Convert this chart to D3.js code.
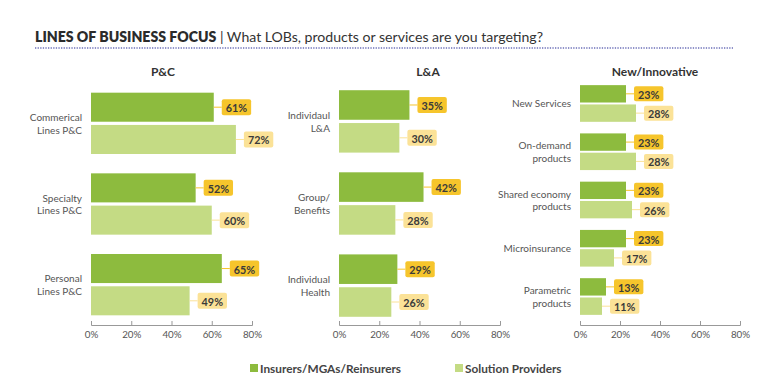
<!DOCTYPE html>
<html>
<head>
<meta charset="utf-8">
<script src="https://cdn.jsdelivr.net/npm/d3@7"></script>
<style>
  html, body { margin: 0; padding: 0; background: #fff; }
  svg { display: block; font-family: Lato, "Open Sans", sans-serif; }
</style>
</head>
<body>
<svg id="chart" width="768" height="391"></svg>
<script>
// ---- Data ----
const seriesNames = ["Insurers/MGAs/Reinsurers", "Solution Providers"];

const pcTitle = "P&C";
const pcCategories = [["Commerical", "Lines P&C"], ["Specialty", "Lines P&C"], ["Personal", "Lines P&C"]];
const pcInsurers = [61, 52, 65];
const pcSolution = [72, 60, 49];

const laTitle = "L&A";
const laCategories = [["Individaul", "L&A"], ["Group/", "Benefits"], ["Individual", "Health"]];
const laInsurers = [35, 42, 29];
const laSolution = [30, 28, 26];

const niTitle = "New/Innovative";
const niCategories = [["New Services"], ["On-demand", "products"], ["Shared economy", "products"], ["Microinsurance"], ["Parametric", "products"]];
const niInsurers = [23, 23, 23, 23, 13];
const niSolution = [28, 28, 26, 17, 11];

const tickValues = [0, 20, 40, 60, 80];

// ---- Styles ----
const barColors = ["#8dbb3e", "#c4db84"];
const boxColors = ["#f6c52c", "#fbe297"];
const textDark = "#333";

const svg = d3.select("#chart");

// Title
const title = svg.append("text").attr("x", 35).attr("y", 42)
  .attr("font-size", 14.1).attr("fill", "#2b2b2b");
title.append("tspan").attr("font-weight", 800).text("LINES OF BUSINESS FOCUS");
title.append("tspan").attr("font-weight", 400).attr("fill", "#333").text(" | What LOBs, products or services are you targeting?");

svg.append("line").attr("x1", 35).attr("x2", 733).attr("y1", 48).attr("y2", 48)
  .attr("stroke", "#6c6fb8").attr("stroke-width", 1.3).attr("stroke-dasharray", "1.3,1.3");

const panels = [
  { title: pcTitle, cats: pcCategories, ins: pcInsurers, sol: pcSolution, x0: 91, x1: 252, y0: 83, y1: 325, po: 0.12, titleX: 163, boxH: 16 },
  { title: laTitle, cats: laCategories, ins: laInsurers, sol: laSolution, x0: 339, x1: 500, y0: 82, y1: 325, po: 0.1, titleX: 428, boxH: 16 },
  { title: niTitle, cats: niCategories, ins: niInsurers, sol: niSolution, x0: 580, x1: 740, y0: 75, y1: 325, po: 0.21, titleX: 655, boxH: 15 }
];

panels.forEach(p => {
  const g = svg.append("g");
  const x = d3.scaleLinear().domain([0, 80]).range([p.x0, p.x1]);
  const y = d3.scaleBand().domain(d3.range(p.cats.length)).range([p.y0, p.y1])
    .paddingInner(0.24).paddingOuter(p.po);
  const ys = d3.scaleBand().domain([0, 1]).range([0, y.bandwidth()]).paddingInner(0.1);

  g.append("text").attr("x", p.titleX).attr("y", 76).attr("text-anchor", "middle")
    .attr("font-size", 12).attr("font-weight", 700).attr("fill", textDark).text(p.title);

  // axis
  const axis = d3.axisBottom(x).tickValues(tickValues).tickSize(-4).tickPadding(6)
    .tickFormat(d => d + "%");
  const ag = g.append("g").attr("transform", `translate(0,${p.y1})`).call(axis);
  ag.select(".domain").attr("stroke", "#999");
  ag.selectAll(".tick line").attr("stroke", "#999");
  ag.selectAll(".tick text").attr("font-size", 9.8).attr("fill", "#555")
    .attr("font-family", "Lato, sans-serif");

  p.cats.forEach((cat, i) => {
    const vals = [p.ins[i], p.sol[i]];
    const by = y(i);
    vals.forEach((v, s) => {
      const top = by + ys(s);
      const h = ys.bandwidth();
      g.append("rect").attr("x", x(0)).attr("y", top).attr("width", x(v) - x(0)).attr("height", h)
        .attr("fill", barColors[s]);
      const cy = top + h / 2;
      const label = v + "%";
      const bx = x(v) + 8;
      g.append("line").attr("x1", x(v)).attr("x2", bx).attr("y1", cy).attr("y2", cy)
        .attr("stroke", boxColors[s]).attr("stroke-width", 1);
      const lg = g.append("g");
      const box = lg.append("rect").attr("x", bx).attr("y", cy - p.boxH / 2)
        .attr("height", p.boxH).attr("rx", 2).attr("fill", boxColors[s]);
      const t = lg.append("text").attr("font-size", 10.8).attr("font-weight", 700)
        .attr("fill", "#3a3a3a").attr("dominant-baseline", "central")
        .attr("text-anchor", "middle").text(label);
      const tw = t.node().getComputedTextLength();
      const bw = tw + 8;
      box.attr("width", bw);
      t.attr("x", bx + bw / 2).attr("y", cy + 0.5);
    });
    // category label
    const cy = by + y.bandwidth() / 2;
    const lh = 12.5;
    const n = cat.length;
    cat.forEach((line, k) => {
      g.append("text").attr("x", x(0) - 9).attr("y", cy + (k - (n - 1) / 2) * lh)
        .attr("dominant-baseline", "central").attr("text-anchor", "end")
        .attr("font-size", 10).attr("fill", "#555").text(line);
    });
  });
});

// Legend
const legendItems = [{ x: 250 }, { x: 455 }];
legendItems.forEach((d, i) => {
  svg.append("rect").attr("x", d.x).attr("y", 364).attr("width", 8).attr("height", 8).attr("fill", barColors[i]);
  svg.append("text").attr("x", d.x + 10).attr("y", 372.5).attr("font-size", 11.8).attr("font-weight", 700)
    .attr("fill", "#444").text(seriesNames[i]);
});
</script>
</body>
</html>
